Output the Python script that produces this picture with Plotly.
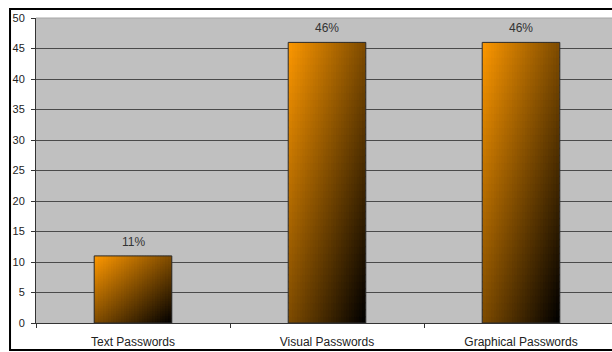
import numpy as np
import plotly.graph_objects as go

categories = ["Text Passwords", "Visual Passwords", "Graphical Passwords"]
values = [11, 46, 46]
value_labels = ["11%", "46%", "46%"]

BAR_W = 0.4
NX, NY = 30, 40
ORANGE = np.array([255, 153, 0])
DARK = np.array([0, 0, 0])
OVER_X = 0.006   # overlap between cells, category units (~1 px)
OVER_Y = 0.25    # overlap between cells, value units (~1.5 px)

# Excel-like diagonal gradient: split each bar into small overlapping cells
seg_x, seg_y, seg_base, seg_off, seg_w, seg_col = [], [], [], [], [], []
for cat, val in zip(categories, values):
    for j in range(NX):
        for k in range(NY):
            u = (j + 0.5) / NX
            v = 1 - (k + 0.5) / NY
            t = (u + v) / 2
            r, g, b = (ORANGE * (1 - t) + DARK * t).astype(int)
            dx = OVER_X if j > 0 else 0
            dy = OVER_Y if k > 0 else 0
            lo = val * k / NY - dy
            hi = val * (k + 1) / NY
            seg_x.append(cat)
            seg_base.append(lo)
            seg_y.append(hi - lo)
            seg_off.append(-BAR_W / 2 + j * BAR_W / NX - dx)
            seg_w.append(BAR_W / NX + dx)
            seg_col.append(f"rgb({r},{g},{b})")

fig = go.Figure()

fig.add_trace(
    go.Bar(
        x=seg_x,
        y=seg_y,
        base=seg_base,
        offset=seg_off,
        width=seg_w,
        marker=dict(color=seg_col, line=dict(width=0)),
        hoverinfo="skip",
        showlegend=False,
    )
)

# bar outlines
fig.add_trace(
    go.Bar(
        x=categories,
        y=values,
        width=BAR_W,
        marker=dict(color="rgba(0,0,0,0)", line=dict(color="#2b2b2b", width=1)),
        hoverinfo="skip",
        showlegend=False,
    )
)

for cat, val, lab in zip(categories, values, value_labels):
    fig.add_annotation(
        x=cat, y=val, text=lab, showarrow=False,
        yanchor="bottom", yshift=5,
        font=dict(size=12, color="#333333"),
    )

# lighter top edge of the plot area
fig.add_shape(
    type="line", xref="paper", yref="paper", x0=0, x1=1, y0=1, y1=1,
    line=dict(color="#a6a6a6", width=1), layer="above",
)

# outer frame
fig.add_shape(
    type="rect", xref="paper", yref="paper",
    x0=-0.0451, x1=1.05, y0=-0.0885, y1=1.0295,
    line=dict(color="black", width=2), fillcolor="rgba(0,0,0,0)",
    layer="above",
)

fig.update_layout(
    width=612,
    height=352,
    margin=dict(l=36, r=0, t=18, b=29),
    barmode="overlay",
    plot_bgcolor="#c0c0c0",
    paper_bgcolor="white",
    font=dict(family="Arial, Liberation Sans, sans-serif", size=11, color="#222222"),
    xaxis=dict(
        type="category",
        range=[-0.5, 2.469],
        automargin=False,
        showgrid=False,
        showline=True,
        linecolor="#333333",
        ticks="outside",
        tickson="boundaries",
        ticklen=4,
        tickcolor="#333333",
        ticklabelstandoff=8,
        tickfont=dict(size=12),
    ),
    yaxis=dict(
        range=[0, 50],
        dtick=5,
        automargin=False,
        showgrid=True,
        gridcolor="#4a4a4a",
        gridwidth=1,
        zeroline=False,
        showline=True,
        linecolor="#333333",
        ticks="outside",
        ticklen=4,
        tickcolor="#333333",
        ticklabelstandoff=4,
        tickfont=dict(size=11),
    ),
)

# page body has a default 8px margin; drop it so the chart sits at the corner
fig.write_html(
    "out.html",
    config={"displayModeBar": False},
    post_script="document.body.style.margin = '0';",
)
